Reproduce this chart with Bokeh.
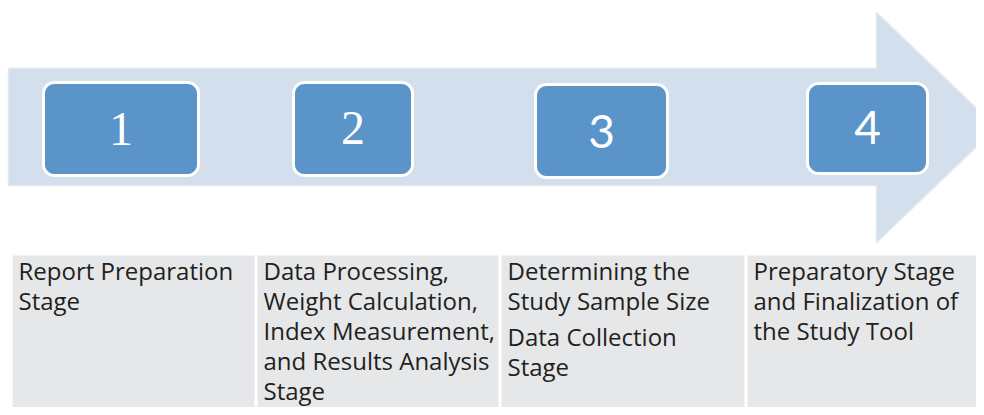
import numpy as np
from bokeh.plotting import figure
from bokeh.models import Range1d, ColumnDataSource
from bokeh.core.properties import value
from bokeh.embed import file_html
from bokeh.resources import INLINE

# ---- data ----
stage_numbers = ["1", "2", "3", "4"]
stage_paragraphs = [
    [["Report Preparation", "Stage"]],
    [["Data Processing,", "Weight Calculation,", "Index Measurement,",
      "and Results Analysis", "Stage"]],
    [["Determining the", "Study Sample Size"], ["Data Collection", "Stage"]],
    [["Preparatory Stage", "and Finalization of", "the Study Tool"]],
]

# ---- layout (screen pixel coordinates) ----
W, H = 976, 407
box_l = [43, 293, 535, 807]
box_r = [198, 412, 667, 927]
box_t = [82, 82, 84, 83]
box_b = [175, 175, 177, 173]
num_base = [128, 127, 131, 127]
num_font = ["Liberation Serif", "Liberation Serif", "Lato", "Lato"]
num_size = ["48px", "48px", "46px", "46px"]
cell_l = [12, 257, 501, 747]
cell_r = [254, 498, 744, 990]
cell_top = 255
text_dx = 6
first_base = 269.5
line_h = 30
para_gap = 6.5

p = figure(width=W, height=H, x_range=Range1d(0, W),
           y_range=Range1d(H, 0), output_backend="svg",
           toolbar_location=None, min_border=0)
p.axis.visible = False
p.grid.visible = False
p.outline_line_color = None
p.background_fill_color = "white"
p.border_fill_color = "white"

# arrow
ax = [8, 876, 876, 996, 876, 876, 8]
ay = [68, 68, 12, 127, 242, 185, 185]
p.patch(ax, ay, fill_color="#D3DFED", line_color="#E3E7EE", line_width=1.5)


def rounded(l, r, t, b, rad):
    xs, ys = [], []
    corners = [(r - rad, t + rad, -90, 0), (r - rad, b - rad, 0, 90),
               (l + rad, b - rad, 90, 180), (l + rad, t + rad, 180, 270)]
    for cx, cy, a0, a1 in corners:
        ang = np.radians(np.linspace(a0, a1, 10))
        xs.extend(cx + rad * np.cos(ang))
        ys.extend(cy + rad * np.sin(ang))
    return xs, ys


bx, by = [], []
for i in range(len(stage_numbers)):
    xs, ys = rounded(box_l[i], box_r[i], box_t[i], box_b[i], 11)
    bx.append(xs)
    by.append(ys)
p.patches(bx, by, fill_color="#5B94C9", line_color="white", line_width=3)

src = ColumnDataSource(dict(
    x=[(box_l[i] + box_r[i]) / 2 for i in range(4)],
    y=num_base, t=stage_numbers, f=num_font, s=num_size))
p.text(x="x", y="y", text="t", text_font="f", text_font_size="s",
       source=src, text_color="white", text_align="center",
       text_baseline="alphabetic")

# table cells
p.quad(left=cell_l, right=cell_r, top=[cell_top] * 4, bottom=[430] * 4,
       fill_color="#E6E7E9", line_color=None)

tx, ty, tt = [], [], []
for i, paras in enumerate(stage_paragraphs):
    y = first_base
    for j, para in enumerate(paras):
        if j > 0:
            y += para_gap
        for line in para:
            tx.append(cell_l[i] + text_dx)
            ty.append(y)
            tt.append(line)
            y += line_h
p.text(x=tx, y=ty, text=tt, text_font=value("Open Sans"),
       text_font_size="24px", text_color="#231F20",
       text_baseline="alphabetic", text_align="left")

open("out.html", "w").write(file_html(p, INLINE))
